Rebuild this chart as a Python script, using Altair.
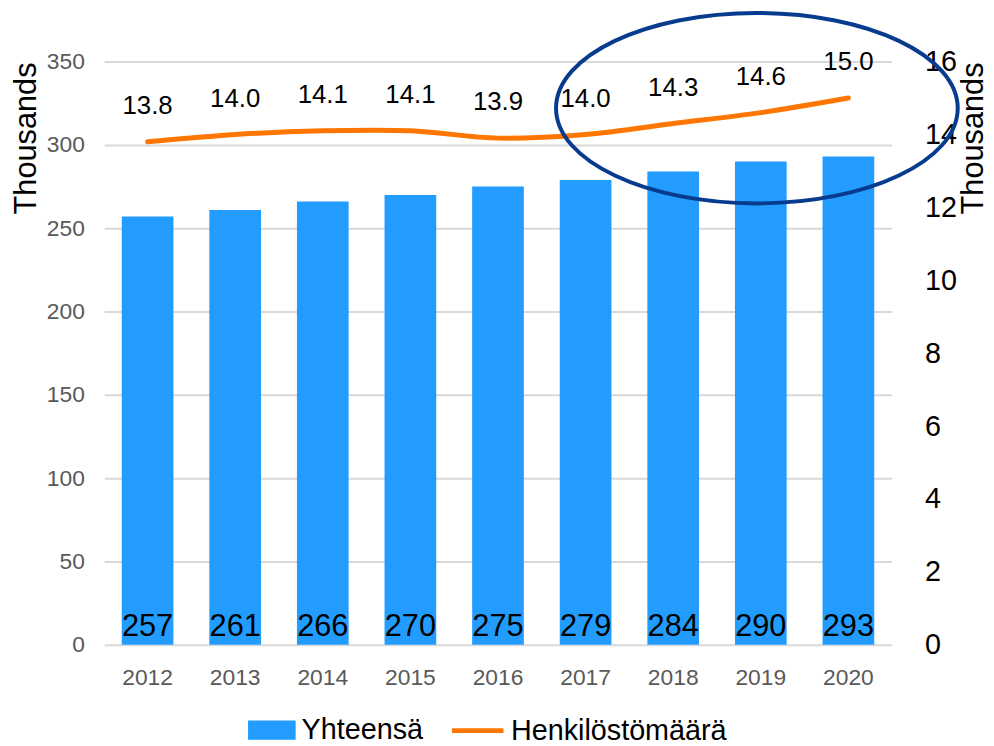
import altair as alt
import pandas as pd

years = ["2012", "2013", "2014", "2015", "2016", "2017", "2018", "2019", "2020"]
yhteensa = [257, 261, 266, 270, 275, 279, 284, 290, 293]
henkilosto = [13.8, 14.0, 14.1, 14.1, 13.9, 14.0, 14.3, 14.6, 15.0]
left_ticks = [0, 50, 100, 150, 200, 250, 300, 350]
right_ticks = [0, 2, 4, 6, 8, 10, 12, 14, 16]

df = pd.DataFrame({
    "Vuosi": years,
    "Yhteensä": yhteensa,
    "Henkilöstömäärä": henkilosto,
    "s1": ["Yhteensä"] * len(years),
    "s2": ["Henkilöstömäärä"] * len(years),
    "base": [0] * len(years),
})

FONT = "Liberation Sans"
BLUE = "#229cff"
ORANGE = "#ff7700"
NAVY = "#073b8e"

x = alt.X("Vuosi:N", sort=years, title=None,
          scale=alt.Scale(paddingInner=0.41, paddingOuter=0.2),
          axis=alt.Axis(labelFont=FONT, labelFontSize=23, labelColor="#595959",
                        labelAngle=0, labelPadding=22, domain=False, ticks=False))

yleft_scale = alt.Scale(domain=[0, 350], nice=False)
yright_scale = alt.Scale(domain=[0, 16], nice=False)

left_axis = alt.Axis(values=left_ticks, title="Thousands", grid=True,
                     gridColor="#d9d9d9", gridWidth=2, domain=False, ticks=False,
                     labelFont=FONT, labelFontSize=23, labelColor="#595959",
                     labelPadding=20, titleFont=FONT, titleFontSize=31,
                     titleFontWeight="normal", titleColor="black", titleAngle=270,
                     titleX=-78, titleY=77, titleAlign="center",
                     titleBaseline="middle")
right_axis = alt.Axis(orient="right", values=right_ticks, title="Thousands",
                      grid=False, domain=False, ticks=False, labelFont=FONT,
                      labelFontSize=29, labelColor="black", labelPadding=33,
                      titleFont=FONT, titleFontSize=31, titleFontWeight="normal",
                      titleColor="black", titleAngle=270, titleX=82, titleY=77,
                      titleAlign="center", titleBaseline="middle")

bar = alt.Chart(df).mark_bar().encode(
    x=x,
    y=alt.Y("Yhteensä:Q", scale=yleft_scale, axis=left_axis),
    fill=alt.Fill("s1:N", scale=alt.Scale(domain=["Yhteensä"], range=[BLUE]),
                  legend=alt.Legend(title=None, orient="none", legendX=145, legendY=650,
                                    symbolType="M-1,-0.4H1V0.4H-1Z", symbolSize=2304,
                                    symbolStrokeWidth=0, labelFont=FONT,
                                    labelFontSize=29, labelColor="black", labelLimit=400,
                                    labelOffset=6, padding=0)),
)

bar_text = alt.Chart(df).mark_text(baseline="alphabetic", dy=-9, fontSize=31,
                                   font=FONT, color="black").encode(
    x=x,
    y=alt.Y("base:Q", scale=yleft_scale, axis=left_axis),
    text=alt.Text("Yhteensä:Q"),
)

line = alt.Chart(df).mark_line(strokeWidth=5, interpolate="catmull-rom",
                               strokeCap="round").encode(
    x=x,
    y=alt.Y("Henkilöstömäärä:Q", scale=yright_scale, axis=right_axis),
    stroke=alt.Stroke("s2:N", scale=alt.Scale(domain=["Henkilöstömäärä"], range=[ORANGE]),
                      legend=alt.Legend(title=None, orient="none", legendX=348, legendY=646,
                                        symbolType="stroke", symbolSize=2704,
                                        symbolStrokeWidth=5, labelFont=FONT,
                                        labelFontSize=29, labelColor="black",
                                        labelLimit=400, labelOffset=5, padding=0)),
)

line_text = alt.Chart(df).mark_text(baseline="middle", dy=-36, fontSize=26,
                                    font=FONT, color="black").encode(
    x=x,
    y=alt.Y("Henkilöstömäärä:Q", scale=yright_scale, axis=right_axis),
    text=alt.Text("Henkilöstömäärä:Q", format=".1f"),
)

ellipse = alt.Chart(pd.DataFrame({"a": [0]})).mark_point(
    shape="M-1,0A1,0.474,0,1,1,1,0A1,0.474,0,1,1,-1,0Z",
    size=164025, filled=False, stroke=NAVY, strokeWidth=4, opacity=1,
).encode(x=alt.value(658), y=alt.value(47))

left = alt.layer(bar, bar_text)
right = alt.layer(line, line_text)

chart = alt.layer(left, right, ellipse).resolve_scale(y="independent").properties(
    width=794, height=588,
    padding={"left": 97, "top": 51, "right": 95, "bottom": 99},
    autosize=alt.AutoSizeParams(type="none"),
).configure_view(stroke=None)

chart.save("out.html", embed_options={"renderer": "svg", "actions": False})
